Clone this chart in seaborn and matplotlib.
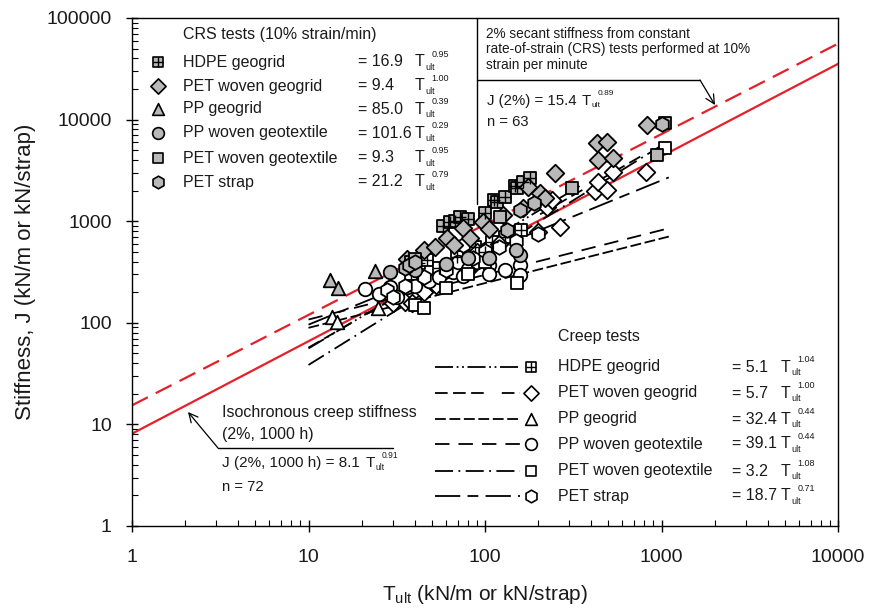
import numpy as np
import pandas as pd
import matplotlib
matplotlib.use("Agg")
import matplotlib.pyplot as plt
import matplotlib.transforms as mtrans
import seaborn as sns
from matplotlib.lines import Line2D
from matplotlib.ticker import FixedLocator, LogLocator, NullFormatter

# ---------------- data ----------------
products = ["HDPE geogrid", "PET woven geogrid", "PP geogrid",
            "PP woven geotextile", "PET woven geotextile", "PET strap"]
crs_coef = ["16.9", "9.4", "85.0", "101.6", "9.3", "21.2"]
crs_exp = ["0.95", "1.00", "0.39", "0.29", "0.95", "0.79"]
creep_coef = [5.1, 5.7, 32.4, 39.1, 3.2, 18.7]
creep_exp = [1.04, 1.00, 0.44, 0.44, 1.08, 0.71]
creep_tmin = [10, 10, 10, 10, 10, 10]
creep_tmax = [350, 780, 1100, 1100, 1070, 1100]

# overall fits
fit_crs = (15.4, 0.89)      # dashed red
fit_creep = (8.1, 0.91)     # solid red

# CRS test points (T_ult, J)
crs_hdpe_T = [58, 63, 68, 72, 80, 100, 113, 117, 130, 148, 151, 165, 179]
crs_hdpe_J = [900, 990, 1000, 1100, 1050, 1200, 1600, 1540, 1730, 2200, 2140, 2450, 2650]
crs_petgg_T = [36, 45, 52, 61, 67, 75, 82, 98, 106, 126, 164, 175, 205, 220, 248, 430, 437, 490, 530, 826]
crs_petgg_J = [420, 520, 560, 685, 580, 860, 680, 980, 840, 1150, 1350, 2170, 1900, 1700, 2960, 5900, 4000, 6000, 4200, 8900]
crs_ppgg_T = [13.2, 14.7, 23.8]
crs_ppgg_J = [263, 219, 324]
crs_ppwt_T = [29, 40, 60, 80, 106, 158, 150]
crs_ppwt_J = [318, 330, 380, 430, 434, 460, 520]
crs_petwt_T = [38, 40, 121, 310, 940, 1050]
crs_petwt_J = [400, 420, 1100, 2130, 4500, 9200]
crs_strap_T = [35, 37, 40, 133, 158, 190, 1000]
crs_strap_J = [350, 370, 400, 820, 1290, 1500, 9000]

# creep test points (T_ult, J)
cr_hdpe_T = [38, 42, 47, 55, 69, 88, 100, 110, 130, 160]
cr_hdpe_J = [300, 385, 412, 350, 445, 560, 500, 620, 700, 820]
cr_petgg_T = [30, 35, 38.6, 45, 53, 82, 90, 120, 200, 225, 240, 265, 420, 437, 490, 530, 820]
cr_petgg_J = [155, 160, 156, 200, 235, 350, 500, 600, 785, 1370, 1600, 880, 2000, 2450, 2050, 3050, 3050]
cr_ppgg_T = [13.6, 14.5, 24.8]
cr_ppgg_J = [114, 101, 139]
cr_ppwt_T = [21, 25, 29, 31.6, 40, 48, 55, 66, 70, 75, 80, 90, 106, 106, 130, 158, 158]
cr_ppwt_J = [215, 190, 225, 180, 230, 260, 280, 318, 400, 290, 340, 400, 370, 300, 330, 370, 295]
cr_petwt_T = [40, 45, 60, 80, 100, 152, 1050]
cr_petwt_J = [150, 140, 220, 300, 400, 245, 5300]
cr_strap_T = [28, 30, 35, 45, 60, 75, 85, 100, 120, 150, 200]
cr_strap_J = [210, 180, 230, 280, 330, 580, 430, 510, 560, 640, 750]

crs_T = [crs_hdpe_T, crs_petgg_T, crs_ppgg_T, crs_ppwt_T, crs_petwt_T, crs_strap_T]
crs_J = [crs_hdpe_J, crs_petgg_J, crs_ppgg_J, crs_ppwt_J, crs_petwt_J, crs_strap_J]
cr_T = [cr_hdpe_T, cr_petgg_T, cr_ppgg_T, cr_ppwt_T, cr_petwt_T, cr_strap_T]
cr_J = [cr_hdpe_J, cr_petgg_J, cr_ppgg_J, cr_ppwt_J, cr_petwt_J, cr_strap_J]

# ---------------- styles ----------------
markers = ["s", "D", "^", "o", "s", "h"]
msizes = [80, 80, 95, 95, 80, 110]
dashes = [(10, 2, 1, 2, 1, 2), (7, 3, 7, 3, 7, 10), (6, 2), (8, 5),
          (10, 3, 1, 3), (14, 4, 6, 4)]
GRAY = "#b9b9b9"
RED = "#e5202a"
TXT = "#1a1a1a"

sns.set_theme(style="white")
plt.rcParams['font.family'] = ['Liberation Sans', 'DejaVu Sans']
plt.rcParams['mathtext.fontset'] = 'custom'
plt.rcParams['mathtext.rm'] = 'Liberation Sans'
plt.rcParams['mathtext.it'] = 'Liberation Sans:italic'

fig = plt.figure(figsize=(8.72, 6.14), dpi=100)
L, R, T_, B = 132, 838, 18, 526
W, H = 872, 614
ax = fig.add_axes([L / W, 1 - B / H, (R - L) / W, (B - T_) / H])
ax.set_xscale("log")
ax.set_yscale("log")
ax.set_xlim(1, 10000)
ax.set_ylim(1, 100000)


def fx(px):
    return (px - L) / (R - L)


def fy(py):
    return (B - py) / (B - T_)


# red overall fit lines
tt = np.geomspace(1, 10000, 50)
sns.lineplot(x=tt, y=fit_crs[0] * tt ** fit_crs[1], ax=ax, color=RED, lw=1.6, zorder=2)
ax.lines[-1].set_dashes((8, 4))
sns.lineplot(x=tt, y=fit_creep[0] * tt ** fit_creep[1], ax=ax, color=RED, lw=1.6, zorder=2)

# creep regression lines per product
for i in range(6):
    t = np.geomspace(creep_tmin[i], creep_tmax[i], 40)
    ln = ax.plot(t, creep_coef[i] * t ** creep_exp[i], color="black", lw=1.3, zorder=3)[0]
    ln.set_dashes(dashes[i])


def draw_points(T, J, i, face, z):
    df = pd.DataFrame({"T": T, "J": J})
    sns.scatterplot(data=df, x="T", y="J", ax=ax, marker=markers[i], s=msizes[i],
                    color=face, edgecolor="black", linewidth=1.3, zorder=z, legend=False)
    if i == 0:
        sns.scatterplot(data=df, x="T", y="J", ax=ax, marker="+", s=msizes[i] * 0.9,
                        color="black", linewidth=1.0, zorder=z + 0.1, legend=False)


for i in range(6):
    draw_points(cr_T[i], cr_J[i], i, "white", 4)
for i in range(6):
    draw_points(crs_T[i], crs_J[i], i, GRAY, 5)

# ---------------- axes styling ----------------
ax.xaxis.set_major_locator(FixedLocator([1, 10, 100, 1000, 10000]))
ax.yaxis.set_major_locator(FixedLocator([1, 10, 100, 1000, 10000, 100000]))
ax.set_xticklabels(["1", "10", "100", "1000", "10000"])
ax.set_yticklabels(["1", "10", "100", "1000", "10000", "100000"])
ax.xaxis.set_minor_locator(LogLocator(base=10, subs=np.arange(2, 10), numticks=20))
ax.yaxis.set_minor_locator(LogLocator(base=10, subs=np.arange(2, 10), numticks=20))
ax.xaxis.set_minor_formatter(NullFormatter())
ax.yaxis.set_minor_formatter(NullFormatter())
ax.tick_params(which="major", direction="inout", length=9, width=1.0, color="black",
               labelsize=14, labelcolor=TXT, bottom=True, left=True)
ax.tick_params(which="minor", direction="in", length=4, width=0.8, color="black",
               bottom=True, left=True)
ax.tick_params(axis="x", which="major", pad=12)
ax.tick_params(axis="y", which="major", pad=10)
for s in ax.spines.values():
    s.set_color("black")
    s.set_linewidth(1.0)
ax.set_xlabel(r"$\mathregular{T_{ult}}$ (kN/m or kN/strap)", fontsize=15, labelpad=12, color=TXT)
ax.set_ylabel("Stiffness, J (kN/m or kN/strap)", fontsize=16, labelpad=8, color=TXT)


def tult(x, y, fs, e):
    """Draw 'T' with a small 'ult' subscript and an exponent, in axes fraction coords."""
    ax.text(x, y, "T", transform=ax.transAxes, fontsize=fs, va="center", color=TXT)
    small = fs * 0.56
    tr_sub = mtrans.offset_copy(ax.transAxes, fig=fig, x=0.64 * fs, y=-0.32 * fs, units="points")
    ax.text(x, y, "ult", transform=tr_sub, fontsize=small, va="center", color=TXT)
    tr_sup = mtrans.offset_copy(ax.transAxes, fig=fig, x=1.02 * fs, y=0.48 * fs, units="points")
    ax.text(x, y, e, transform=tr_sup, fontsize=small, va="center", color=TXT)


def txt(px, py, s, fs):
    ax.text(fx(px), fy(py), s, transform=ax.transAxes, fontsize=fs, va="center", ha="left", color=TXT)


# ---------------- CRS legend block ----------------
fs_leg = 11.5
txt(183, 35, "CRS tests (10% strain/min)", fs_leg)
rows_crs = [62, 86, 109, 133, 158, 182]
for i in range(6):
    y = fy(rows_crs[i])
    ax.scatter([fx(158)], [y], marker=markers[i], s=msizes[i] * 0.75, c=GRAY,
               edgecolors="black", linewidths=1.2, transform=ax.transAxes, zorder=6, clip_on=False)
    if i == 0:
        ax.scatter([fx(158)], [y], marker="+", s=msizes[i] * 0.7, c="black",
                   linewidths=1.0, transform=ax.transAxes, zorder=7, clip_on=False)
    txt(183, rows_crs[i], products[i], fs_leg)
    txt(358, rows_crs[i], "= " + crs_coef[i], fs_leg)
    tult(fx(415), y, fs_leg, crs_exp[i])

# ---------------- creep legend block ----------------
txt(558, 336, "Creep tests", fs_leg)
rows_cr = [367, 393, 419, 444, 471, 496]
for i in range(6):
    y = fy(rows_cr[i])
    ln = Line2D([fx(435), fx(520)], [y, y], transform=ax.transAxes, color="black", lw=1.3)
    ln.set_dashes(dashes[i])
    ax.add_line(ln)
    ax.scatter([fx(531)], [y], marker=markers[i], s=msizes[i] * 0.75, c="white",
               edgecolors="black", linewidths=1.2, transform=ax.transAxes, zorder=6)
    if i == 0:
        ax.scatter([fx(531)], [y], marker="+", s=msizes[i] * 0.7, c="black",
                   linewidths=1.0, transform=ax.transAxes, zorder=7)
    txt(558, rows_cr[i], products[i], fs_leg)
    txt(732, rows_cr[i], "= %.1f" % creep_coef[i], fs_leg)
    tult(fx(781), y, fs_leg, "%.2f" % creep_exp[i])

# ---------------- top-right annotation ----------------
fs_ann = 9.8
ax.add_line(Line2D([fx(477), fx(477)], [fy(18), fy(204)], transform=ax.transAxes, color="black", lw=1.0))
ax.add_line(Line2D([fx(477), fx(700)], [fy(80), fy(80)], transform=ax.transAxes, color="black", lw=1.0))
ax.annotate("", xy=(fx(715), fy(105)), xytext=(fx(700), fy(80)), xycoords="axes fraction",
            textcoords="axes fraction", arrowprops=dict(arrowstyle="->", color="black", lw=0.9,
                                                        mutation_scale=16, shrinkA=0, shrinkB=0))
txt(486, 34, "2% secant stiffness from constant", fs_ann)
txt(486, 49, "rate-of-strain (CRS) tests performed at 10%", fs_ann)
txt(486, 65, "strain per minute", fs_ann)
txt(487, 101, "J (2%%) = %.1f" % fit_crs[0], 10.8)
tult(fx(582), fy(101), 10.8, "%.2f" % fit_crs[1])
txt(487, 122, "n = 63", 10.6)

# ---------------- bottom-left annotation ----------------
ax.add_line(Line2D([fx(218), fx(393)], [fy(448), fy(448)], transform=ax.transAxes, color="black", lw=1.0))
ax.annotate("", xy=(fx(188), fy(412)), xytext=(fx(218), fy(448)), xycoords="axes fraction",
            textcoords="axes fraction", arrowprops=dict(arrowstyle="->", color="black", lw=0.9,
                                                        mutation_scale=16, shrinkA=0, shrinkB=0))
txt(222, 413, "Isochronous creep stiffness", 11.5)
txt(222, 434, "(2%, 1000 h)", 11.5)
txt(222, 463, "J (2%%, 1000 h) = %.1f" % fit_creep[0], 11.0)
tult(fx(366), fy(463), 11.0, "%.2f" % fit_creep[1])
txt(222, 487, "n = 72", 10.6)

fig.savefig("out.png", dpi=100)
